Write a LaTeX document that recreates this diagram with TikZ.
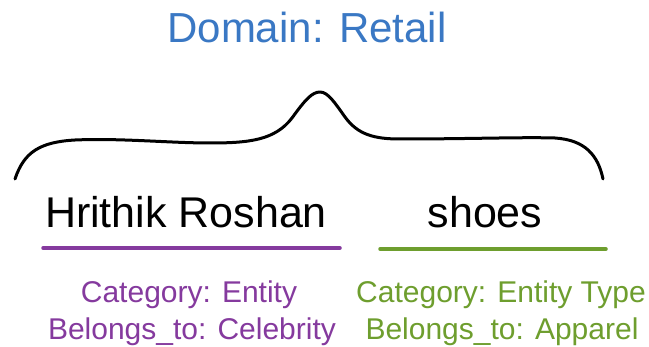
\documentclass[tikz,border=0pt]{standalone}
\usepackage{fontspec}
\setmainfont{Liberation Sans}
\definecolor{domainblue}{RGB}{58,120,196}
\definecolor{entpurple}{RGB}{133,58,158}
\definecolor{typegreen}{RGB}{110,158,46}
\tikzset{
  word/.style={inner sep=0pt, anchor=base, font=\fontsize{43}{50}\selectfont},
  title/.style={inner sep=0pt, anchor=base, text=domainblue, font=\fontsize{42}{49}\selectfont},
  info/.style={inner sep=0pt, anchor=base, font=\fontsize{30}{36}\selectfont},
  underline/.style={line width=3.5pt, line cap=round},
  brace/.style={line width=3pt, line cap=round, line join=round}
}
\begin{document}
\begin{tikzpicture}[x=1pt, y=-1pt]
  \useasboundingbox[fill=white] (0,0) rectangle (649,347);

  % heading
  \node[title] (domain) at (307,43) {Domain: Retail};

  % curly brace spanning both terms
  \draw[brace] (15,179) .. controls (24,152) and (40,142) .. (75,140)
    .. controls (120,138) and (170,143) .. (210,143)
    .. controls (250,143) and (275,140) .. (292,118)
    .. controls (305,100) and (312,92) .. (320,92)
    .. controls (328,92) and (335,103) .. (345,117)
    .. controls (358,135) and (375,139) .. (400,139)
    .. controls (470,139) and (520,137) .. (555,138)
    .. controls (585,140) and (598,155) .. (603,179);

  % the two terms
  \node[word] (hrithik) at (186,228) {Hrithik Roshan};
  \node[word] (shoes) at (485,228) {shoes};

  % coloured underlines
  \coordinate (pl) at (43,248);
  \coordinate (pr) at (340,248);
  \coordinate (gl) at (380,249);
  \coordinate (gr) at (606,249);
  \draw[underline, entpurple] (pl) -- (pr);
  \draw[underline, typegreen] (gl) -- (gr);

  % annotations
  \node[info, text=entpurple] (cat1) at (189,303) {Category: Entity};
  \node[info, text=entpurple] (bel1) at (192,340) {Belongs\_to: Celebrity};
  \node[info, text=typegreen] (cat2) at (501,303) {Category: Entity Type};
  \node[info, text=typegreen] (bel2) at (502,340) {Belongs\_to: Apparel};
\end{tikzpicture}
\end{document}
